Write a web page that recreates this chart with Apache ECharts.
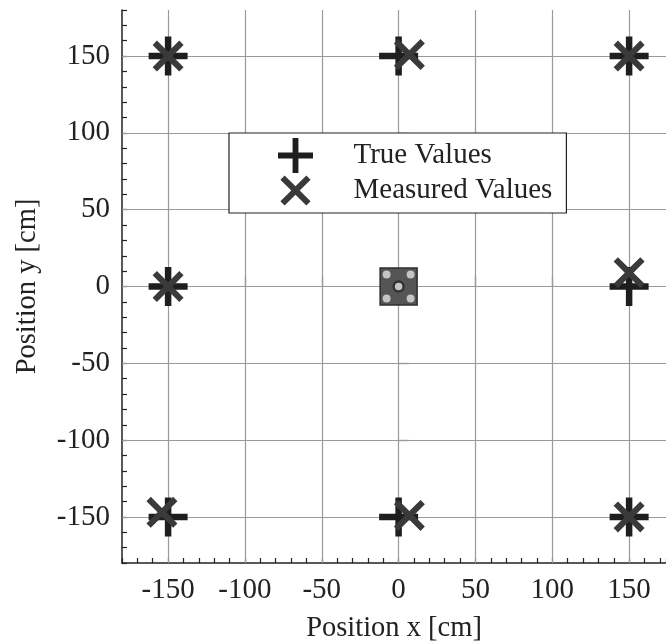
<!DOCTYPE html>
<html>
<head>
<meta charset="utf-8">
<script src="https://cdn.jsdelivr.net/npm/echarts@6/dist/echarts.min.js"></script>
<style>
html,body{margin:0;padding:0;background:#fff;}
#chart{width:666px;height:643px;}
</style>
</head>
<body>
<div id="chart"></div>
<script>
// ---- data ----
var seriesNames = ['True Values', 'Measured Values'];
var trueX = [-150, 0, 150, -150, 150, -150, 0, 150];
var trueY = [150, 150, 150, 0, 0, -150, -150, -150];
var measX = [-150, 7, 150, -150, 150, -154, 7, 150];
var measY = [150, 151, 150, 0, 9, -147, -149, -150];
var sensorX = [0];
var sensorY = [0];
var xTicks = [-150, -100, -50, 0, 50, 100, 150];
var yTicks = [-150, -100, -50, 0, 50, 100, 150];
var xName = 'Position x [cm]';
var yName = 'Position y [cm]';

// ---- styling ----
var FONT = 'Liberation Serif';
var PLUS = 'path://M5,0H7V5H12V7H7V12H5V7H0V5H5Z';
var CROSS = 'path://M0,14L14,0L50,36L86,0L100,14L64,50L100,86L86,100L50,64L14,100L0,86L36,50Z';
var CROSS_LEGEND = 'path://M-8,-8L-8,-7.9ZM108,108L108,107.9ZM0,14L14,0L50,36L86,0L100,14L64,50L100,86L86,100L50,64L14,100L0,86L36,50Z';

function pairs(xs, ys) { return xs.map(function (x, i) { return [x, ys[i]]; }); }

var labelFmt = function (v) { return (Math.round(v) % 50 === 0) ? String(v) : ''; };

var chart = echarts.init(document.getElementById('chart'), null, {renderer: 'canvas'});

function sensorDot(offset) {
  return {
    type: 'scatter', z: 9, silent: true,
    xAxisIndex: 0, yAxisIndex: 0,
    data: pairs(sensorX, sensorY),
    symbol: 'circle', symbolSize: 8, symbolOffset: offset,
    itemStyle: {color: '#c4c4c4', opacity: 1}
  };
}

var option = {
  animation: false,
  backgroundColor: '#fff',
  grid: {left: 122, top: 10, right: 0, bottom: 80, containLabel: false, outerBoundsMode: 'none'},
  legend: {
    orient: 'vertical',
    left: 229, top: 133,
    padding: [5, 14, 5, 49],
    backgroundColor: '#fff',
    borderColor: '#222', borderWidth: 1.2,
    itemWidth: 40, itemHeight: 35, itemGap: 0,
    selectedMode: false,
    textStyle: {fontFamily: FONT, fontSize: 29, color: '#222', padding: [0, 0, 0, 33], lineHeight: 35},
    data: [
      {name: seriesNames[0], icon: PLUS, itemStyle: {color: '#1e1e1e', opacity: 1}},
      {name: seriesNames[1], icon: CROSS_LEGEND, itemStyle: {color: '#3a3a3a', opacity: 1}}
    ]
  },
  xAxis: [{
    type: 'value', min: -180, max: 174, interval: 10,
    name: xName, nameLocation: 'middle', nameGap: 51,
    nameTextStyle: {fontFamily: FONT, fontSize: 28.5, color: '#222'},
    axisLine: {show: true, onZero: false, lineStyle: {color: '#222', width: 1.5}},
    axisTick: {show: true, inside: true, length: 5, lineStyle: {color: '#222', width: 1.2}},
    axisLabel: {formatter: labelFmt, fontFamily: FONT, fontSize: 29, color: '#222', margin: 13},
    splitLine: {show: false}
  }, {
    type: 'value', min: -180, max: 174, position: 'bottom', offset: 0,
    axisLine: {show: false},
    axisTick: {show: true, inside: true, length: 10, customValues: xTicks, lineStyle: {color: '#222', width: 1.2}},
    axisLabel: {show: false},
    splitLine: {show: false}
  }],
  yAxis: [{
    type: 'value', min: -180, max: 180, interval: 10,
    name: yName, nameLocation: 'middle', nameGap: 80,
    nameTextStyle: {fontFamily: FONT, fontSize: 28.5, color: '#222'},
    axisLine: {show: true, onZero: false, lineStyle: {color: '#222', width: 1.5}},
    axisTick: {show: true, inside: true, length: 5, lineStyle: {color: '#222', width: 1.2}},
    axisLabel: {formatter: labelFmt, fontFamily: FONT, fontSize: 29, color: '#222', margin: 12},
    splitLine: {show: false}
  }, {
    type: 'value', min: -180, max: 180, position: 'left', offset: 0,
    axisLine: {show: false},
    axisTick: {show: true, inside: true, length: 10, customValues: yTicks, lineStyle: {color: '#222', width: 1.2}},
    axisLabel: {show: false},
    splitLine: {show: false}
  }],
  series: [
    {
      name: '_grid', type: 'scatter', data: [], z: 0, silent: true,
      xAxisIndex: 0, yAxisIndex: 0,
      markLine: {
        silent: true, symbol: 'none', animation: false, z: 1,
        label: {show: false},
        lineStyle: {color: '#9a9a9a', width: 1.2, type: 'solid', opacity: 1},
        data: xTicks.map(function (v) { return {xAxis: v}; })
          .concat(yTicks.map(function (v) { return {yAxis: v}; }))
      }
    },
    {
      name: '_sensor', type: 'scatter', z: 8, silent: true,
      xAxisIndex: 0, yAxisIndex: 0,
      data: pairs(sensorX, sensorY),
      symbol: 'rect', symbolSize: 37,
      itemStyle: {color: '#555555', borderColor: '#2e2e2e', borderWidth: 1.5, opacity: 1}
    },
    sensorDot([-12, -12]),
    sensorDot([12, -12]),
    sensorDot([-12, 12]),
    sensorDot([12, 12]),
    {
      name: '_sensorCenter', type: 'scatter', z: 9, silent: true,
      xAxisIndex: 0, yAxisIndex: 0,
      data: pairs(sensorX, sensorY),
      symbol: 'circle', symbolSize: 10,
      itemStyle: {color: '#c4c4c4', borderColor: '#333', borderWidth: 2.5, opacity: 1}
    },
    {
      name: seriesNames[0], type: 'scatter', z: 10,
      xAxisIndex: 0, yAxisIndex: 0,
      data: pairs(trueX, trueY),
      symbol: PLUS, symbolSize: 39,
      itemStyle: {color: '#1e1e1e', opacity: 1}
    },
    {
      name: seriesNames[1], type: 'scatter', z: 11,
      xAxisIndex: 0, yAxisIndex: 0,
      data: pairs(measX, measY),
      symbol: CROSS, symbolSize: 31,
      itemStyle: {color: '#3a3a3a', opacity: 1}
    }
  ]
};
chart.setOption(option);
</script>
</body>
</html>
